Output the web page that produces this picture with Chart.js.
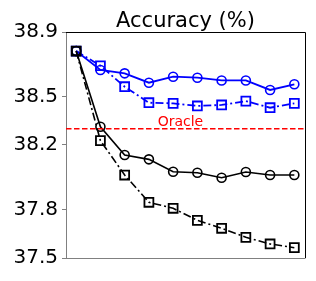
<!DOCTYPE html>
<html><head><meta charset="utf-8">
<script src="https://cdn.jsdelivr.net/npm/chart.js@4/dist/chart.umd.min.js"></script>
<style>html,body{margin:0;padding:0;background:#fff}#w{width:316px;height:281px}</style>
</head><body><div id="w"><canvas id="c"></canvas></div>
<script>
const steps = [0,1,2,3,4,5,6,7,8,9];
const blueCircle = [38.782,38.665,38.644,38.586,38.623,38.617,38.600,38.600,38.541,38.576];
const blueSquare = [38.782,38.691,38.561,38.462,38.458,38.442,38.448,38.472,38.431,38.458];
const blackCircle = [38.782,38.313,38.138,38.111,38.034,38.028,37.997,38.033,38.014,38.014];
const blackSquare = [38.782,38.227,38.014,37.845,37.808,37.733,37.684,37.628,37.587,37.564];
const oracle = 38.3;
const yTicks = [37.5,37.8,38.2,38.5,38.9];
const xMin = -0.42, xMax = 9.44;
const titleText = 'Accuracy (%)';

const pts = arr => arr.map((v,i)=>({x:steps[i],y:v}));
const F = 'DejaVu Sans';
const dashDot = [8,3,2,3];

const frame = {
  id:'frame',
  afterDatasetsDraw(chart){
    const {ctx, chartArea:a} = chart;
    ctx.save();
    ctx.lineWidth = 1;
    ctx.strokeStyle = '#000';
    ctx.beginPath();
    ctx.moveTo(a.left, a.top+0.5); ctx.lineTo(a.right+0.5, a.top+0.5);
    ctx.lineTo(a.right+0.5, a.bottom);
    ctx.stroke();
    ctx.strokeStyle = '#808080';
    ctx.beginPath();
    ctx.moveTo(a.left-0.5, a.bottom+0.5); ctx.lineTo(a.right+0.5, a.bottom+0.5);
    ctx.stroke();
    const xs = chart.scales.x, ys = chart.scales.y;
    ctx.fillStyle = '#ff0000';
    ctx.font = '14px "DejaVu Sans"';
    ctx.textAlign = 'center';
    ctx.textBaseline = 'alphabetic';
    ctx.fillText('Oracle', xs.getPixelForValue(4.3), ys.getPixelForValue(oracle) - 3);
    ctx.fillStyle = '#000';
    ctx.font = '21px "DejaVu Sans"';
    ctx.fillText(titleText, (a.left + a.right) / 2, a.top - 5);
    ctx.restore();
  }
};

new Chart(document.getElementById('c'), {
  type:'line',
  data:{datasets:[
    {data:[{x:xMin,y:oracle},{x:xMax,y:oracle}], borderColor:'#ff0000', borderWidth:1.5, borderDash:[5.5,2.5], pointRadius:0},
    {data:pts(blackSquare), borderColor:'#000', borderWidth:1.6, borderDash:dashDot, pointStyle:'rect', pointRadius:6.3, pointBorderWidth:1.8, pointBorderColor:'#000', pointBackgroundColor:'transparent'},
    {data:pts(blackCircle), borderColor:'#000', borderWidth:1.6, pointStyle:'circle', pointRadius:4.5, pointBorderWidth:1.6, pointBorderColor:'#000', pointBackgroundColor:'transparent'},
    {data:pts(blueSquare), borderColor:'#0000ff', borderWidth:1.8, borderDash:dashDot, pointStyle:'rect', pointRadius:6.3, pointBorderWidth:1.8, pointBorderColor:'#0000ff', pointBackgroundColor:'transparent'},
    {data:pts(blueCircle), borderColor:'#0000ff', borderWidth:1.8, pointStyle:'circle', pointRadius:4.5, pointBorderWidth:1.6, pointBorderColor:'#0000ff', pointBackgroundColor:'transparent'}
  ]},
  options:{
    responsive:true, maintainAspectRatio:false, animation:false,
    layout:{padding:{left:0,right:11,top:32,bottom:23}},
    plugins:{ legend:{display:false}, tooltip:{enabled:false}, title:{display:false} },
    scales:{
      x:{type:'linear', min:xMin, max:xMax, display:false},
      y:{type:'linear', min:37.5, max:38.9,
        afterBuildTicks(s){ s.ticks = yTicks.map(v=>({value:v})); },
        afterFit(s){ s.width = 66; },
        ticks:{color:'#000', font:{family:F,size:20}, padding:4, callback:v=>v.toFixed(1)},
        grid:{drawOnChartArea:false, tickLength:4, color:'#808080', lineWidth:1},
        border:{color:'#808080', width:1}
      }
    }
  },
  plugins:[frame]
});
</script></body></html>
